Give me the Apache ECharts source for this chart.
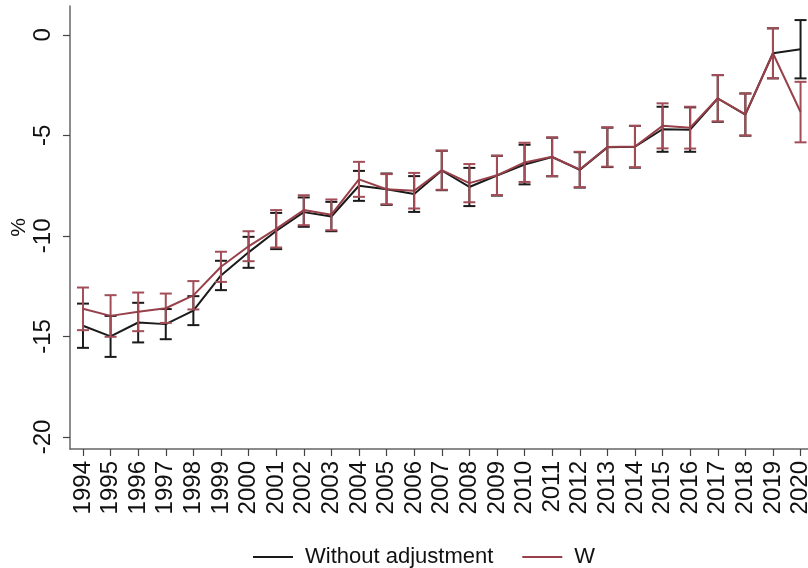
<!DOCTYPE html>
<html>
<head>
<meta charset="utf-8">
<script src="https://cdn.jsdelivr.net/npm/echarts@6/dist/echarts.min.js"></script>
<style>
  html, body { margin: 0; padding: 0; background: #fff; }
  #chart { width: 808px; height: 568px; }
</style>
</head>
<body>
<div id="chart"></div>
<script>
// Years on the horizontal axis
const years = [1994, 1995, 1996, 1997, 1998, 1999, 2000, 2001, 2002, 2003, 2004, 2005, 2006,
  2007, 2008, 2009, 2010, 2011, 2012, 2013, 2014, 2015, 2016, 2017, 2018, 2019, 2020];

// Estimates without adjustment, with 95% interval bounds
const baseEst  = [-14.47, -15.00, -14.31, -14.39, -13.72, -11.97, -10.82, -9.76, -8.82, -9.04, -7.51, -7.68, -7.92,
  -6.75, -7.57, -7.00, -6.45, -6.08, -6.72, -5.60, -5.57, -4.70, -4.72, -3.17, -3.97, -0.92, -0.72];
const baseLow  = [-15.57, -16.02, -15.30, -15.14, -14.44, -12.70, -11.59, -10.66, -9.55, -9.77, -8.26, -8.46, -8.81,
  -7.73, -8.52, -8.00, -7.44, -7.04, -7.60, -6.58, -6.61, -5.82, -5.82, -4.33, -5.02, -2.17, -2.17];
const baseHigh = [-13.37, -13.98, -13.33, -13.64, -13.00, -11.24, -10.05, -8.86, -8.09, -8.31, -6.77, -6.90, -7.03,
  -5.77, -6.62, -6.02, -5.47, -5.12, -5.84, -4.62, -4.53, -3.58, -3.61, -2.01, -2.92, 0.32, 0.73];

// W-adjusted estimates, with 95% interval bounds
const wEst  = [-13.63, -13.98, -13.78, -13.60, -12.96, -11.54, -10.52, -9.65, -8.72, -8.95, -7.19, -7.68, -7.76,
  -6.73, -7.38, -6.99, -6.35, -6.07, -6.70, -5.58, -5.56, -4.53, -4.62, -3.16, -3.96, -0.92, -3.84];
const wLow  = [-14.69, -15.02, -14.74, -14.33, -13.66, -12.29, -11.26, -10.58, -9.47, -9.72, -8.06, -8.43, -8.64,
  -7.71, -8.33, -7.97, -7.32, -7.03, -7.58, -6.56, -6.59, -5.65, -5.66, -4.31, -5.01, -2.16, -5.35];
const wHigh = [-12.57, -12.95, -12.82, -12.87, -12.25, -10.79, -9.77, -8.72, -7.98, -8.19, -6.32, -6.93, -6.87,
  -5.76, -6.43, -6.01, -5.37, -5.10, -5.82, -4.60, -4.53, -3.41, -3.58, -2.00, -2.92, 0.32, -2.34];

// Labelled values on the vertical axis
const yTicks = [0, -5, -10, -15, -20];

const seriesNames = ['Without adjustment', 'W'];
const BLACK = '#1a1a1a';
const RED = '#98404a';
const RED_BAR = '#a24d57';

function points(est) { return years.map((y, i) => [y, est[i]]); }
function intervals(lo, hi) { return years.map((y, i) => [y, lo[i], hi[i]]); }

// Vertical interval bar with short caps at both ends
function capBars(color) {
  return function (params, api) {
    const x = api.value(0);
    const pLo = api.coord([x, api.value(1)]);
    const pHi = api.coord([x, api.value(2)]);
    const hw = 6;
    const st = { stroke: color, lineWidth: 2 };
    return {
      type: 'group',
      children: [
        { type: 'line', shape: { x1: pLo[0], y1: pLo[1], x2: pHi[0], y2: pHi[1] }, style: st },
        { type: 'line', shape: { x1: pLo[0] - hw, y1: pLo[1], x2: pLo[0] + hw, y2: pLo[1] }, style: st },
        { type: 'line', shape: { x1: pHi[0] - hw, y1: pHi[1], x2: pHi[0] + hw, y2: pHi[1] }, style: st }
      ]
    };
  };
}

const chart = echarts.init(document.getElementById('chart'), null, { renderer: 'canvas' });

const labelFont = { fontFamily: 'Liberation Sans, Arial, sans-serif', fontSize: 24, color: '#111' };

chart.setOption({
  animation: false,
  backgroundColor: '#fff',
  grid: { left: 70, right: 0, top: 6, bottom: 119, containLabel: false, outerBoundsMode: 'none' },
  xAxis: {
    type: 'value',
    min: 1993.53,
    max: 2020.27,
    axisLine: { show: true, onZero: false, lineStyle: { color: '#666', width: 1.5 } },
    axisTick: { show: true, length: 7, lineStyle: { color: '#444', width: 1.2 }, customValues: years },
    axisLabel: Object.assign({ rotate: 90, margin: 12, customValues: years, formatter: v => String(v) }, labelFont),
    splitLine: { show: false }
  },
  yAxis: {
    type: 'value',
    min: -20.6,
    max: 1.43,
    name: '%',
    nameLocation: 'middle',
    nameRotate: 90,
    nameGap: 40,
    nameMoveOverlap: false,
    nameTextStyle: { fontFamily: 'Liberation Sans, Arial, sans-serif', fontSize: 21, color: '#111' },
    axisLine: { show: true, onZero: false, lineStyle: { color: '#666', width: 1.5 } },
    axisTick: { show: true, length: 7, lineStyle: { color: '#444', width: 1.2 }, customValues: yTicks },
    axisLabel: Object.assign({ rotate: 90, margin: 15, customValues: yTicks }, labelFont),
    splitLine: { show: false }
  },
  legend: {
    data: seriesNames.map(n => ({ name: n, icon: 'rect' })),
    left: 248,
    top: 541,
    itemWidth: 40,
    itemHeight: 2,
    itemGap: 29,
    textStyle: { fontFamily: 'Liberation Sans, Arial, sans-serif', fontSize: 22, color: '#111', padding: [0, 0, 0, 7] }
  },
  series: [
    {
      name: 'base-interval',
      type: 'custom',
      renderItem: capBars(BLACK),
      encode: { x: 0, y: [1, 2] },
      data: intervals(baseLow, baseHigh),
      z: 2
    },
    {
      name: seriesNames[0],
      type: 'line',
      data: points(baseEst),
      showSymbol: false,
      lineStyle: { color: BLACK, width: 2 },
      itemStyle: { color: BLACK },
      z: 3
    },
    {
      name: 'w-interval',
      type: 'custom',
      renderItem: capBars(RED_BAR),
      encode: { x: 0, y: [1, 2] },
      data: intervals(wLow, wHigh),
      z: 4
    },
    {
      name: seriesNames[1],
      type: 'line',
      data: points(wEst),
      showSymbol: false,
      lineStyle: { color: RED, width: 2 },
      itemStyle: { color: RED },
      z: 5
    }
  ]
});
</script>
</body>
</html>
